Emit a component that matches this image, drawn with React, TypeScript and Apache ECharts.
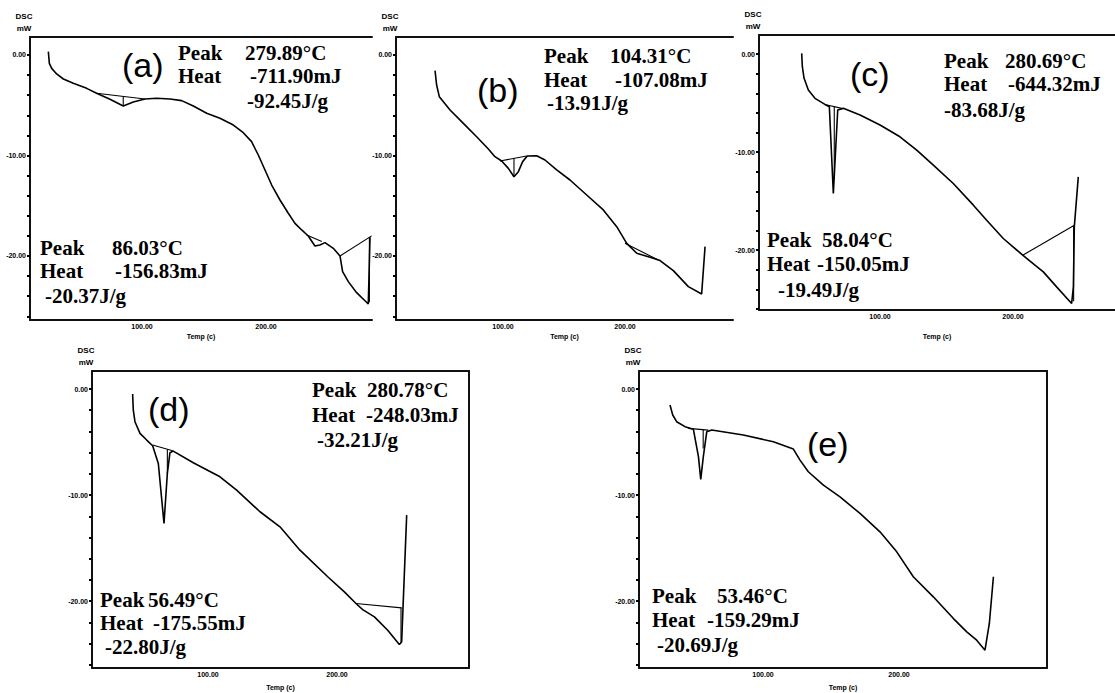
import React, { useEffect, useRef } from "react";
import * as echarts from "echarts";

// ---------- data (temperature °C, heat flow mW) ----------
const tempA = [24.5, 25.3, 27.2, 31.2, 36.6, 44.6, 55.4, 63.4, 74.2, 84.9, 93.0, 102.4, 111.8, 122.6, 132.0, 141.4, 152.2, 162.9, 173.7, 181.7, 188.4, 193.8, 199.2, 204.6, 211.3, 218.0, 223.4, 228.8, 234.1, 239.5, 243.5, 247.6, 254.3, 259.7, 261.8, 266.4, 273.1, 282.5, 283.9];
const dscA = [0.33, -0.83, -1.33, -1.89, -2.39, -2.82, -3.32, -3.81, -4.41, -5.07, -4.68, -4.38, -4.31, -4.38, -4.54, -5.07, -5.8, -6.3, -6.97, -7.73, -8.62, -9.95, -11.44, -12.94, -14.43, -15.75, -16.75, -17.41, -18.01, -19.0, -18.9, -18.67, -19.24, -20.0, -21.56, -22.55, -23.65, -24.78, -18.14];
const baselinesA = [[63.4, -3.81, 102.4, -4.38], [84.9, -4.12, 84.9, -5.07], [232.8, -17.9, 245.0, -18.57], [259.7, -20.0, 285.2, -18.0], [283.4, -18.1, 283.4, -24.6]];

const tempB = [44.3, 45.6, 47.8, 56.6, 67.5, 78.4, 88.0, 93.4, 98.9, 104.4, 109.0, 112.6, 116.1, 119.9, 127.6, 134.4, 144.0, 154.9, 168.6, 182.2, 193.2, 201.4, 209.6, 220.5, 228.7, 239.6, 251.9, 262.8, 265.6];
const dscB = [-1.56, -2.99, -4.15, -5.47, -6.8, -8.13, -9.35, -10.12, -10.55, -11.28, -12.11, -11.61, -10.61, -10.05, -10.02, -10.45, -11.44, -12.44, -13.93, -15.42, -17.08, -18.74, -19.73, -20.13, -20.46, -21.46, -23.05, -23.78, -19.07];
const baselinesB = [[97.5, -10.55, 119.4, -10.05], [109.0, -10.3, 109.0, -12.11], [200.0, -18.74, 227.3, -20.4]];

const tempC = [41.1, 41.6, 42.9, 46.1, 51.1, 58.6, 61.9, 64.9, 68.2, 72.4, 85.0, 100.0, 115.0, 127.6, 140.1, 155.1, 170.2, 180.2, 192.7, 207.3, 216.5, 222.8, 232.8, 244.1, 245.4, 246.1, 249.1];
const dscC = [0.07, -1.29, -2.48, -3.67, -4.52, -5.14, -5.37, -14.22, -5.71, -5.54, -6.22, -7.24, -8.44, -9.8, -11.33, -13.2, -15.41, -16.94, -18.81, -20.51, -21.53, -22.21, -23.74, -25.44, -23.74, -17.62, -12.52];
const baselinesC = [[58.6, -5.14, 71.2, -5.54], [65.6, -5.35, 65.6, -12.5], [207.3, -20.51, 246.1, -17.45], [245.6, -17.5, 245.6, -25.2]];

const tempD = [41.6, 42.1, 43.4, 47.3, 52.5, 57.1, 61.5, 65.9, 68.5, 70.5, 73.1, 88.6, 109.3, 122.2, 140.3, 155.8, 171.3, 192.8, 205.7, 214.7, 219.9, 229.0, 239.3, 248.3, 250.1, 254.0];
const dscD = [-0.47, -1.98, -3.08, -4.18, -4.81, -5.35, -7.01, -12.67, -7.96, -6.01, -5.85, -6.95, -8.27, -9.53, -11.57, -12.99, -15.19, -17.7, -19.12, -20.22, -20.79, -21.48, -22.74, -24.09, -23.84, -11.89];
const baselinesD = [[57.1, -5.28, 72.6, -5.82], [68.5, -5.7, 68.5, -8.0], [214.7, -20.22, 250.1, -20.63], [249.6, -20.6, 249.6, -23.9]];

const tempE = [31.6, 33.6, 36.5, 42.6, 48.8, 52.5, 54.2, 56.1, 58.6, 62.3, 85.5, 107.6, 122.3, 127.2, 133.3, 144.4, 156.6, 171.3, 186.0, 198.3, 210.5, 225.2, 240.0, 249.8, 257.1, 263.2, 266.4, 269.4];
const dscE = [-1.51, -2.45, -3.08, -3.55, -3.8, -6.38, -8.52, -6.38, -4.03, -3.87, -4.34, -4.97, -5.66, -6.7, -7.8, -9.06, -10.16, -11.73, -13.46, -15.35, -17.7, -19.59, -21.64, -22.89, -23.68, -24.62, -22.1, -17.7];
const baselinesE = [[45.1, -3.71, 59.8, -3.87], [56.0, -3.82, 56.0, -5.6]];

// tick values
const yTickValues = [0, -2, -4, -6, -8, -10, -12, -14, -16, -18, -20, -22, -24, -26];
const yLabelValues = [0, -10, -20];
const xLabelValues = [100, 200];

// panel letters and annotation text
const panelLetters = ["(a)", "(b)", "(c)", "(d)", "(e)"];
const annotationsA = [["Peak", "279.89°C"], ["Heat", "-711.90mJ"], ["-92.45J/g"], ["Peak", "86.03°C"], ["Heat", "-156.83mJ"], ["-20.37J/g"]];
const annotationsB = [["Peak", "104.31°C"], ["Heat", "-107.08mJ"], ["-13.91J/g"]];
const annotationsC = [["Peak", "280.69°C"], ["Heat", "-644.32mJ"], ["-83.68J/g"], ["Peak", "58.04°C"], ["Heat", "-150.05mJ"], ["-19.49J/g"]];
const annotationsD = [["Peak", "280.78°C"], ["Heat", "-248.03mJ"], ["-32.21J/g"], ["Peak", "56.49°C"], ["Heat", "-175.55mJ"], ["-22.80J/g"]];
const annotationsE = [["Peak", "53.46°C"], ["Heat", "-159.29mJ"], ["-20.69J/g"]];

// ---------- layout ----------
const panels = [
  { temp: tempA, dsc: dscA, base: baselinesA, grid: { left: 30, top: 37, width: 342, height: 283 }, xMin: 9.7, xMax: 285.5, yMin: -26.37, yMax: 1.79, right: false, nameGap: 13 },
  { temp: tempB, dsc: dscB, base: baselinesB, grid: { left: 396, top: 37, width: 337, height: 283 }, xMin: 12.3, xMax: 288.5, yMin: -26.37, yMax: 1.79, right: false, nameGap: 13 },
  { temp: tempC, dsc: dscC, base: baselinesC, grid: { left: 759, top: 35, width: 356, height: 275 }, xMin: 9.0, xMax: 276.7, yMin: -26.1, yMax: 1.94, right: false, nameGap: 23 },
  { temp: tempD, dsc: dscD, base: baselinesD, grid: { left: 92, top: 371, width: 377, height: 297 }, xMin: 10.1, xMax: 302.3, yMin: -26.3, yMax: 1.7, right: true, nameGap: 16 },
  { temp: tempE, dsc: dscE, base: baselinesE, grid: { left: 639, top: 371, width: 408, height: 297 }, xMin: 8.8, xMax: 308.8, yMin: -26.3, yMax: 1.7, right: true, nameGap: 16 },
];

// positions of the text blocks: [x of word, x of value, baseline y] per line
const letterPos = [[122, 65], [477, 90], [850, 74], [148, 409], [807, 444]];
const annotationPos = [
  [[178, 245, 60], [178, 250, 83], [247, 0, 108], [40, 112, 255], [40, 115, 278], [45, 0, 303]],
  [[544, 610, 63], [544, 615, 87], [547, 0, 110]],
  [[944, 1005, 68], [944, 1008, 91], [944, 0, 117], [767, 822, 247], [767, 817, 271], [778, 0, 297]],
  [[312, 367, 397], [312, 366, 422], [317, 0, 447], [100, 148, 607], [100, 153, 630], [105, 0, 654]],
  [[652, 717, 603], [652, 707, 627], [657, 0, 652]],
];
const annotationLists = [annotationsA, annotationsB, annotationsC, annotationsD, annotationsE];

const AXIS_COLOR = "#111";
const SMALL_FONT = "'Liberation Sans', Arial, sans-serif";
const SERIF = "'Liberation Serif', 'Times New Roman', serif";

export default function App() {
  const ref = useRef<HTMLDivElement>(null);

  useEffect(() => {
    if (!ref.current) return;
    const chart = echarts.init(ref.current, undefined, { renderer: "svg" });

    const grids: any[] = [];
    const xAxes: any[] = [];
    const yAxes: any[] = [];
    const series: any[] = [];
    const topAxes: any[] = [];
    const rightAxes: any[] = [];

    panels.forEach((p, i) => {
      grids.push({ ...p.grid, containLabel: false, outerBoundsMode: "none" });
      xAxes.push({
        type: "value",
        gridIndex: i,
        min: p.xMin,
        max: p.xMax,
        position: "bottom",
        name: "Temp (c)",
        nameLocation: "middle",
        nameGap: p.nameGap,
        nameTextStyle: { fontSize: 7, fontWeight: "bold", color: "#000", fontFamily: SMALL_FONT },
        axisLine: { show: true, onZero: false, lineStyle: { color: AXIS_COLOR, width: 2 } },
        axisTick: { show: false },
        splitLine: { show: false },
        axisLabel: {
          customValues: xLabelValues,
          formatter: (v: number) => v.toFixed(2),
          fontSize: 7,
          fontWeight: "bold",
          color: "#000",
          fontFamily: SMALL_FONT,
          margin: 3,
        },
      });
      topAxes.push({
        type: "value",
        gridIndex: i,
        min: p.xMin,
        max: p.xMax,
        position: "top",
        axisLine: { show: true, onZero: false, lineStyle: { color: AXIS_COLOR, width: 2 } },
        axisTick: { show: false },
        axisLabel: { show: false },
        splitLine: { show: false },
      });
      yAxes.push({
        type: "value",
        gridIndex: i,
        min: p.yMin,
        max: p.yMax,
        position: "left",
        name: "DSC\nmW",
        nameLocation: "end",
        nameGap: 3,
        nameTextStyle: {
          fontSize: 8,
          fontWeight: "bold",
          color: "#000",
          fontFamily: SMALL_FONT,
          lineHeight: 12,
          align: "center",
          padding: [0, 12, 0, 0],
        },
        axisLine: { show: true, onZero: false, lineStyle: { color: AXIS_COLOR, width: 2 } },
        axisTick: { show: true, customValues: yTickValues, length: 3, inside: false, lineStyle: { color: "#000", width: 2 } },
        splitLine: { show: false },
        axisLabel: {
          customValues: yLabelValues,
          formatter: (v: number) => v.toFixed(2),
          fontSize: 7,
          fontWeight: "bold",
          color: "#000",
          fontFamily: SMALL_FONT,
          margin: 4,
        },
      });
      if (p.right) {
        rightAxes.push({
          type: "value",
          gridIndex: i,
          min: p.yMin,
          max: p.yMax,
          position: "right",
          axisLine: { show: true, onZero: false, lineStyle: { color: AXIS_COLOR, width: 2 } },
          axisTick: { show: false },
          axisLabel: { show: false },
          splitLine: { show: false },
        });
      }

      series.push({
        type: "line",
        xAxisIndex: i,
        yAxisIndex: i,
        data: p.temp.map((t, k) => [t, p.dsc[k]]),
        showSymbol: false,
        symbol: "none",
        lineStyle: { color: "#000", width: 1.6 },
        silent: true,
        z: 3,
      });
      p.base.forEach((s) => {
        series.push({
          type: "line",
          xAxisIndex: i,
          yAxisIndex: i,
          data: [[s[0], s[1]], [s[2], s[3]]],
          showSymbol: false,
          symbol: "none",
          lineStyle: { color: "#000", width: 1.1 },
          silent: true,
          z: 2,
        });
      });
    });

    const allX = [...xAxes, ...topAxes];
    const allY = [...yAxes, ...rightAxes];

    const graphic: any[] = [];
    panelLetters.forEach((t, i) => {
      graphic.push({
        type: "text",
        x: letterPos[i][0],
        y: letterPos[i][1],
        style: {
          text: t,
          fill: "#000",
          font: `34px 'Liberation Sans', Arial, sans-serif`,
          verticalAlign: "middle",
        },
      });
    });
    annotationLists.forEach((list, i) => {
      list.forEach((line, j) => {
        const pos = annotationPos[i][j];
        const y = pos[2] - 7;
        graphic.push({
          type: "text",
          x: pos[0],
          y,
          style: { text: line[0], fill: "#000", font: `bold 21px ${SERIF}`, verticalAlign: "middle" },
        });
        if (line.length === 2) {
          graphic.push({
            type: "text",
            x: pos[1],
            y,
            style: { text: line[1], fill: "#000", font: `bold 21px ${SERIF}`, verticalAlign: "middle" },
          });
        }
      });
    });

    chart.setOption({
      animation: false,
      backgroundColor: "#fff",
      grid: grids,
      xAxis: allX,
      yAxis: allY,
      series,
      graphic,
    });

    return () => chart.dispose();
  }, []);

  return (
    <div
      ref={ref}
      style={{ position: "absolute", left: 0, top: 0, width: 1115, height: 693, background: "#fff" }}
    />
  );
}
